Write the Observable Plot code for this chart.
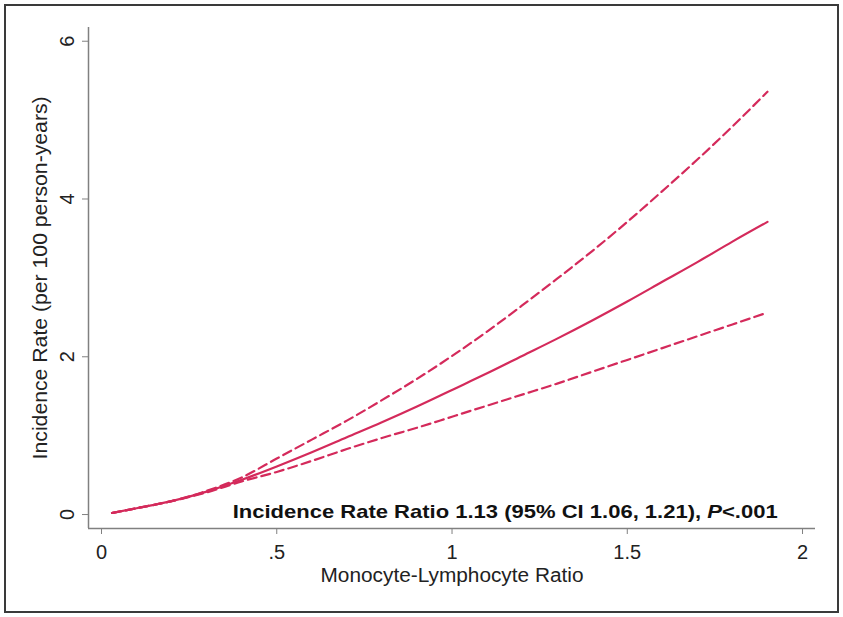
<!DOCTYPE html>
<html>
<head>
<meta charset="utf-8">
<script src="https://cdn.jsdelivr.net/npm/d3@7"></script>
<script src="https://cdn.jsdelivr.net/npm/@observablehq/plot@0.6"></script>
<style>
  html, body { margin: 0; padding: 0; background: #fff; }
  #wrap { position: relative; width: 843px; height: 617px; }
  #border { position: absolute; left: 4px; top: 4px; width: 831px; height: 605px; border: 2px solid #3a3a3a; pointer-events: none; }
  svg { font-family: "Liberation Sans", Arial, sans-serif; }
</style>
</head>
<body>
<div id="wrap"><div id="chart"></div><div id="border"></div></div>
<script>
// Monocyte-lymphocyte ratio (x) and incidence rate per 100 person-years
const mlr   = [0.03, 0.10, 0.20, 0.30, 0.40, 0.50, 0.60, 0.70, 0.80, 0.90, 1.00, 1.10, 1.20, 1.30, 1.40, 1.50, 1.60, 1.70, 1.80, 1.90];
const rate  = [0.02, 0.08, 0.17, 0.29, 0.44, 0.61, 0.79, 0.98, 1.17, 1.37, 1.58, 1.79, 2.01, 2.23, 2.46, 2.70, 2.95, 3.20, 3.46, 3.71];
const upper = [0.02, 0.08, 0.17, 0.30, 0.47, 0.71, 0.95, 1.19, 1.45, 1.72, 2.01, 2.32, 2.65, 2.99, 3.34, 3.71, 4.10, 4.50, 4.92, 5.36];
const lower = [0.02, 0.08, 0.17, 0.28, 0.42, 0.54, 0.68, 0.83, 0.97, 1.10, 1.24, 1.38, 1.52, 1.66, 1.81, 1.96, 2.11, 2.26, 2.41, 2.56];

const xTicks = [0, 0.5, 1, 1.5, 2];
const xTickLabels = ["0", ".5", "1", "1.5", "2"];
const yTicks = [0, 2, 4, 6];
const yTickLabels = ["0", "2", "4", "6"];

const xTitle = "Monocyte-Lymphocyte Ratio";
const yTitle = "Incidence Rate (per 100 person-years)";
const note = "Incidence Rate Ratio 1.13 (95% CI 1.06, 1.21), P<.001";

const lineColor = "#d42a5b";
const axisColor = "#808080";
const textColor = "#222";

const rows = mlr.map((x, i) => ({x, rate: rate[i], upper: upper[i], lower: lower[i]}));

const xDomain = [-0.0371, 2.037];
const yDomain = [-0.177, 6.174];

const chart = Plot.plot({
  width: 843,
  height: 617,
  marginLeft: 88,
  marginRight: 28,
  marginTop: 27,
  marginBottom: 89,
  style: {fontFamily: "'Liberation Sans', Arial, sans-serif", background: "transparent"},
  x: {domain: xDomain, axis: null},
  y: {domain: yDomain, axis: null},
  marks: [
    Plot.ruleX([xDomain[0]], {y1: yDomain[0], y2: yDomain[1], stroke: axisColor, strokeWidth: 1.5}),
    Plot.ruleY([yDomain[0]], {x1: xDomain[0], x2: xDomain[1], stroke: axisColor, strokeWidth: 1.5}),
    Plot.axisX({
      ticks: xTicks,
      tickFormat: (d) => xTickLabels[xTicks.indexOf(d)],
      tickSize: 6,
      tickPadding: 10,
      stroke: axisColor,
      fill: textColor,
      fontSize: 20,
      label: null
    }),
    Plot.axisY({
      ticks: yTicks,
      tickFormat: () => "",
      tickSize: 6,
      stroke: axisColor,
      label: null
    }),
    Plot.text(yTicks, {
      x: -0.097, y: (d) => d, text: (d) => yTickLabels[yTicks.indexOf(d)],
      rotate: -90, textAnchor: "middle", lineAnchor: "middle", fontSize: 20, fill: textColor
    }),
    Plot.text([yTitle], {
      x: -0.174, y: 3.0, text: (d) => d, rotate: -90, textAnchor: "middle", lineAnchor: "middle",
      fontSize: 20, fill: textColor
    }),
    Plot.text([xTitle], {
      x: 1.0, y: -0.773, text: (d) => d, textAnchor: "middle", lineAnchor: "middle",
      fontSize: 20, fill: textColor
    }),
    Plot.line(rows, {x: "x", y: "upper", stroke: lineColor, strokeWidth: 2.2, strokeDasharray: "9,5", curve: "monotone-x"}),
    Plot.line(rows, {x: "x", y: "lower", stroke: lineColor, strokeWidth: 2.2, strokeDasharray: "9,5", curve: "monotone-x"}),
    Plot.line(rows, {x: "x", y: "rate", stroke: lineColor, strokeWidth: 2.2, curve: "monotone-x"}),
    Plot.text([note], {
      x: 1.929, y: -0.04, text: (d) => d, textAnchor: "end", lineAnchor: "bottom",
      fontSize: 19, fontWeight: "bold", fill: "#111"
    })
  ]
});

// match the reference's wider lettering and italicise the "P"
const ns = "http://www.w3.org/2000/svg";
const widths = {[xTitle]: 263, [yTitle]: 363, [note]: 545};
chart.querySelectorAll("text").forEach((t) => {
  const s = t.textContent;
  if (widths[s]) {
    t.setAttribute("textLength", widths[s]);
    t.setAttribute("lengthAdjust", "spacingAndGlyphs");
  }
  if (s === note) {
    const [a, b] = note.split("P<");
    t.textContent = "";
    const s1 = document.createElementNS(ns, "tspan"); s1.textContent = a;
    const s2 = document.createElementNS(ns, "tspan"); s2.textContent = "P"; s2.setAttribute("font-style", "italic");
    const s3 = document.createElementNS(ns, "tspan"); s3.textContent = "<" + b;
    t.append(s1, s2, s3);
  }
});

document.getElementById("chart").append(chart);
</script>
</body>
</html>
